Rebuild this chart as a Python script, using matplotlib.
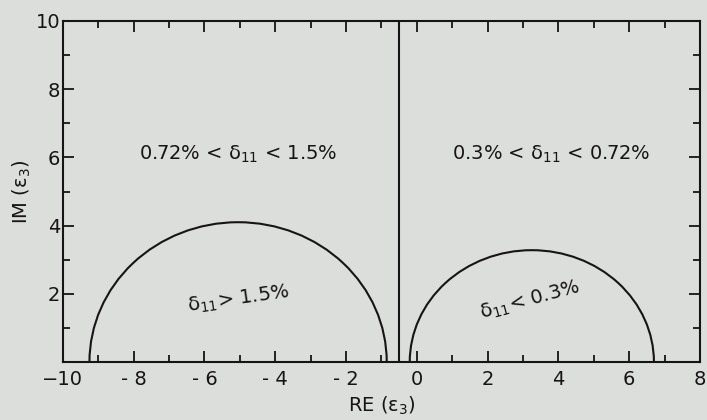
import matplotlib
matplotlib.use("Agg")
import matplotlib.pyplot as plt
from matplotlib.patches import Arc
from matplotlib.ticker import MultipleLocator

# Data
arc_centers = [-5.05, 3.25]      # RE position of semicircle centers
arc_halfwidths = [4.2, 3.45]     # half-widths along RE
arc_heights = [4.1, 3.28]        # peak IM
divider_x = -0.5
region_labels = ["0.72% < δ$_{11}$ < 1.5%", "0.3% < δ$_{11}$ < 0.72%",
                 "δ$_{11}$> 1.5%", "δ$_{11}$< 0.3%"]
label_x = [-5.05, 3.8, -5.05, 3.2]
label_y = [6.1, 6.1, 1.85, 1.8]
label_rot = [0, 0, 8, 15]

bg = "#dcdedb"
ink = "#151515"

fig = plt.figure(figsize=(7.07, 4.20), dpi=100, facecolor=bg)
ax = fig.add_axes([0.089, 0.138, 0.901, 0.812], facecolor=bg)

for c, hw, h in zip(arc_centers, arc_halfwidths, arc_heights):
    ax.add_patch(Arc((c, 0), 2 * hw, 2 * h, theta1=0, theta2=180,
                     color=ink, lw=1.5))
ax.axvline(divider_x, color=ink, lw=1.5)

for t, x, y, r in zip(region_labels, label_x, label_y, label_rot):
    ax.text(x, y, t, ha="center", va="center", rotation=r,
            fontsize=14, color=ink)

ax.set_xlim(-10, 8)
ax.set_ylim(0, 10)
ax.xaxis.set_major_locator(MultipleLocator(2))
ax.xaxis.set_minor_locator(MultipleLocator(1))
ax.yaxis.set_major_locator(MultipleLocator(2))
ax.yaxis.set_minor_locator(MultipleLocator(1))
ax.tick_params(which="both", direction="in", top=True, right=True,
               color=ink, width=1.3, labelsize=14, labelcolor=ink)
ax.tick_params(which="major", length=8)
ax.tick_params(which="minor", length=5)
ax.tick_params(axis="x", which="major", pad=6)
ax.tick_params(axis="y", which="major", pad=2)
for s in ax.spines.values():
    s.set_color(ink)
    s.set_linewidth(1.5)

xt = list(range(-10, 9, 2))
ax.set_xticks(xt)
ax.set_xticklabels(["−10" if v == -10 else ("- %d" % -v if v < 0 else str(v)) for v in xt])
ax.set_yticks([2, 4, 6, 8, 10])
ax.set_xlabel("RE (ε$_3$)", fontsize=14, color=ink, labelpad=4)
ax.set_ylabel("IM (ε$_3$)", fontsize=14, color=ink)
ax.yaxis.set_label_coords(-0.047, 0.5)

fig.savefig("out.png", dpi=100, facecolor=bg)
